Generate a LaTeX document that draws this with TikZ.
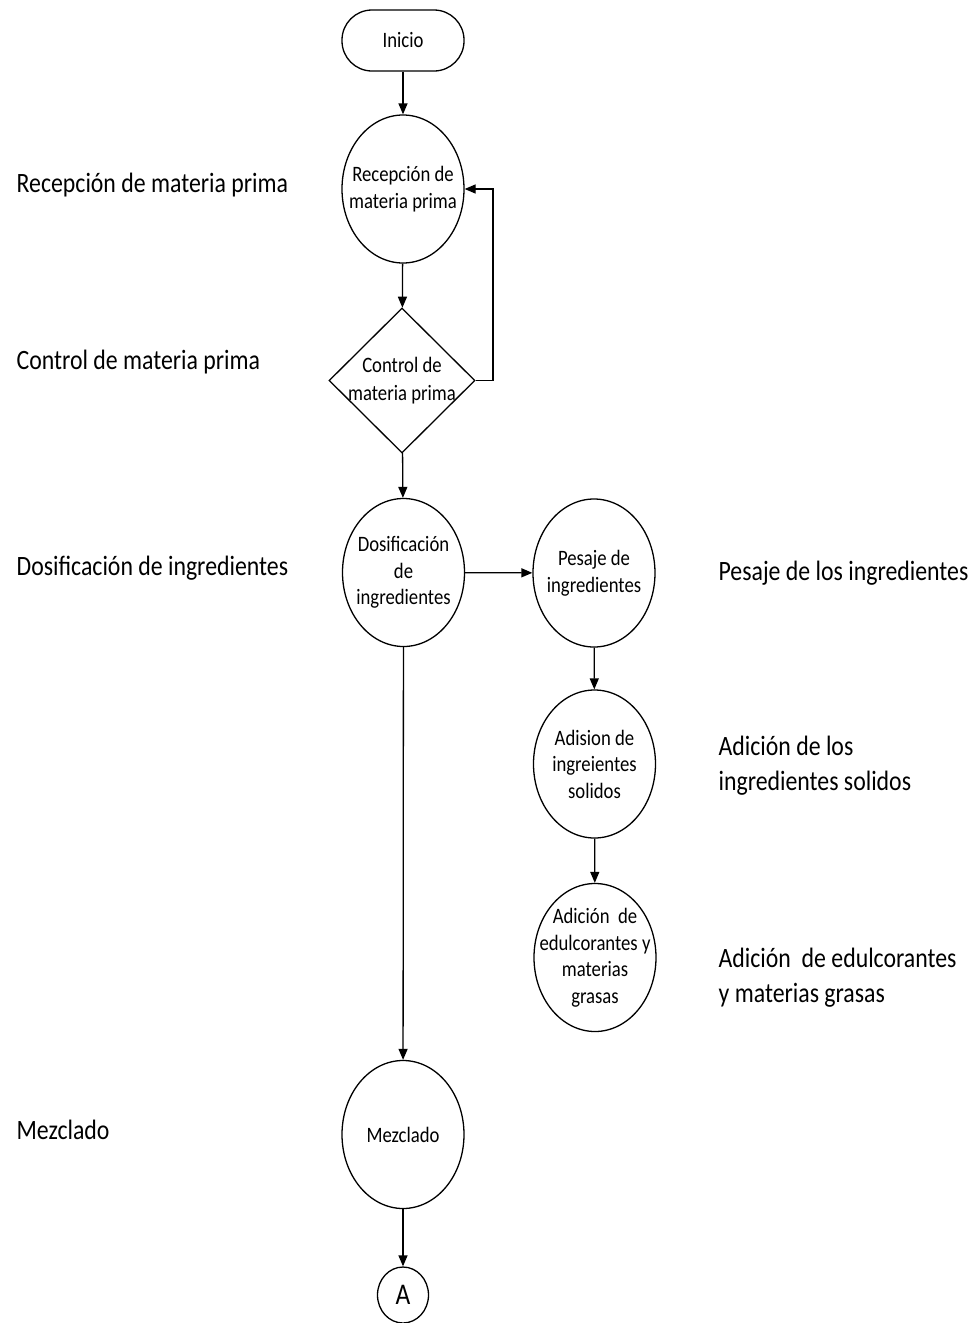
\documentclass[tikz,border=0pt]{standalone}
\usepackage{fontspec}
\setmainfont{Carlito}[FakeStretch=0.85]
\usetikzlibrary{shapes.geometric,arrows.meta}
\begin{document}
\begin{tikzpicture}[x=1pt,y=-1pt,
  line width=1.3pt,
  arr/.style={-{Triangle[length=11pt,width=9pt]}},
  proc/.style={draw,ellipse,inner xsep=-30pt,inner ysep=-12pt,minimum width=122pt,minimum height=148pt,align=center,font=\fontsize{22}{26.5}\selectfont},
  term/.style={draw,rectangle,rounded corners=30pt,inner sep=0pt,minimum width=122pt,minimum height=61pt,font=\fontsize{22}{26.5}\selectfont},
  decis/.style={draw,diamond,inner xsep=-25pt,inner ysep=-25pt,minimum width=146pt,minimum height=145pt,align=center,font=\fontsize{22}{28}\selectfont},
  conn/.style={draw,ellipse,inner sep=-5pt,minimum width=51pt,minimum height=56pt,font=\fontsize{30}{34}\selectfont},
  lbl/.style={anchor=west,inner sep=0pt,align=left,font=\fontsize{28}{35}\selectfont}]
\useasboundingbox (0,0) rectangle (979,1323);
\node[term] (ini) at (403,40.5) {Inicio};
\node[proc] (rec) at (403,189) {Recepción de\\materia prima};
\node[decis] (ctrl) at (402,380.5) {Control de\\materia prima};
\node[proc] (dos) at (403.5,572.5) {Dosificación\\de\\ingredientes};
\node[proc] (pes) at (594,573) {Pesaje de\\ingredientes};
\node[proc] (adi) at (594.5,764) {Adision de\\ingreientes\\solidos};
\node[proc] (edu) at (595,957.5) {Adición~ de\\edulcorantes y\\materias\\grasas};
\node[proc] (mez) at (403,1134.5) {Mezclado};
\node[conn] (A) at (403,1295) {A};
\coordinate (fb) at (493,380.5);
\draw[arr] (ini) -- (rec);
\draw[arr] (rec) -- (ctrl);
\draw[arr] (ctrl) -- (dos);
\draw[arr] (ctrl.east) -- (fb) |- (rec.east);
\draw[arr] (dos) -- (pes);
\draw[arr] (pes) -- (adi);
\draw[arr] (adi) -- (edu);
\draw[arr] (dos) -- (mez);
\draw[arr] (mez) -- (A);
\node[lbl] (l1) at (16,185) {Recepción de materia prima};
\node[lbl] (l2) at (16,362) {Control de materia prima};
\node[lbl] (l3) at (16,568) {Dosificación de ingredientes};
\node[lbl] (l4) at (16,1130) {Mezclado};
\node[lbl] (r1) at (718,573) {Pesaje de los ingredientes};
\node[lbl] (r2) at (718,765.5) {Adición de los\\ingredientes solidos};
\node[lbl] (r3) at (718,977.5) {Adición~ de edulcorantes\\y materias grasas};
\end{tikzpicture}
\end{document}
